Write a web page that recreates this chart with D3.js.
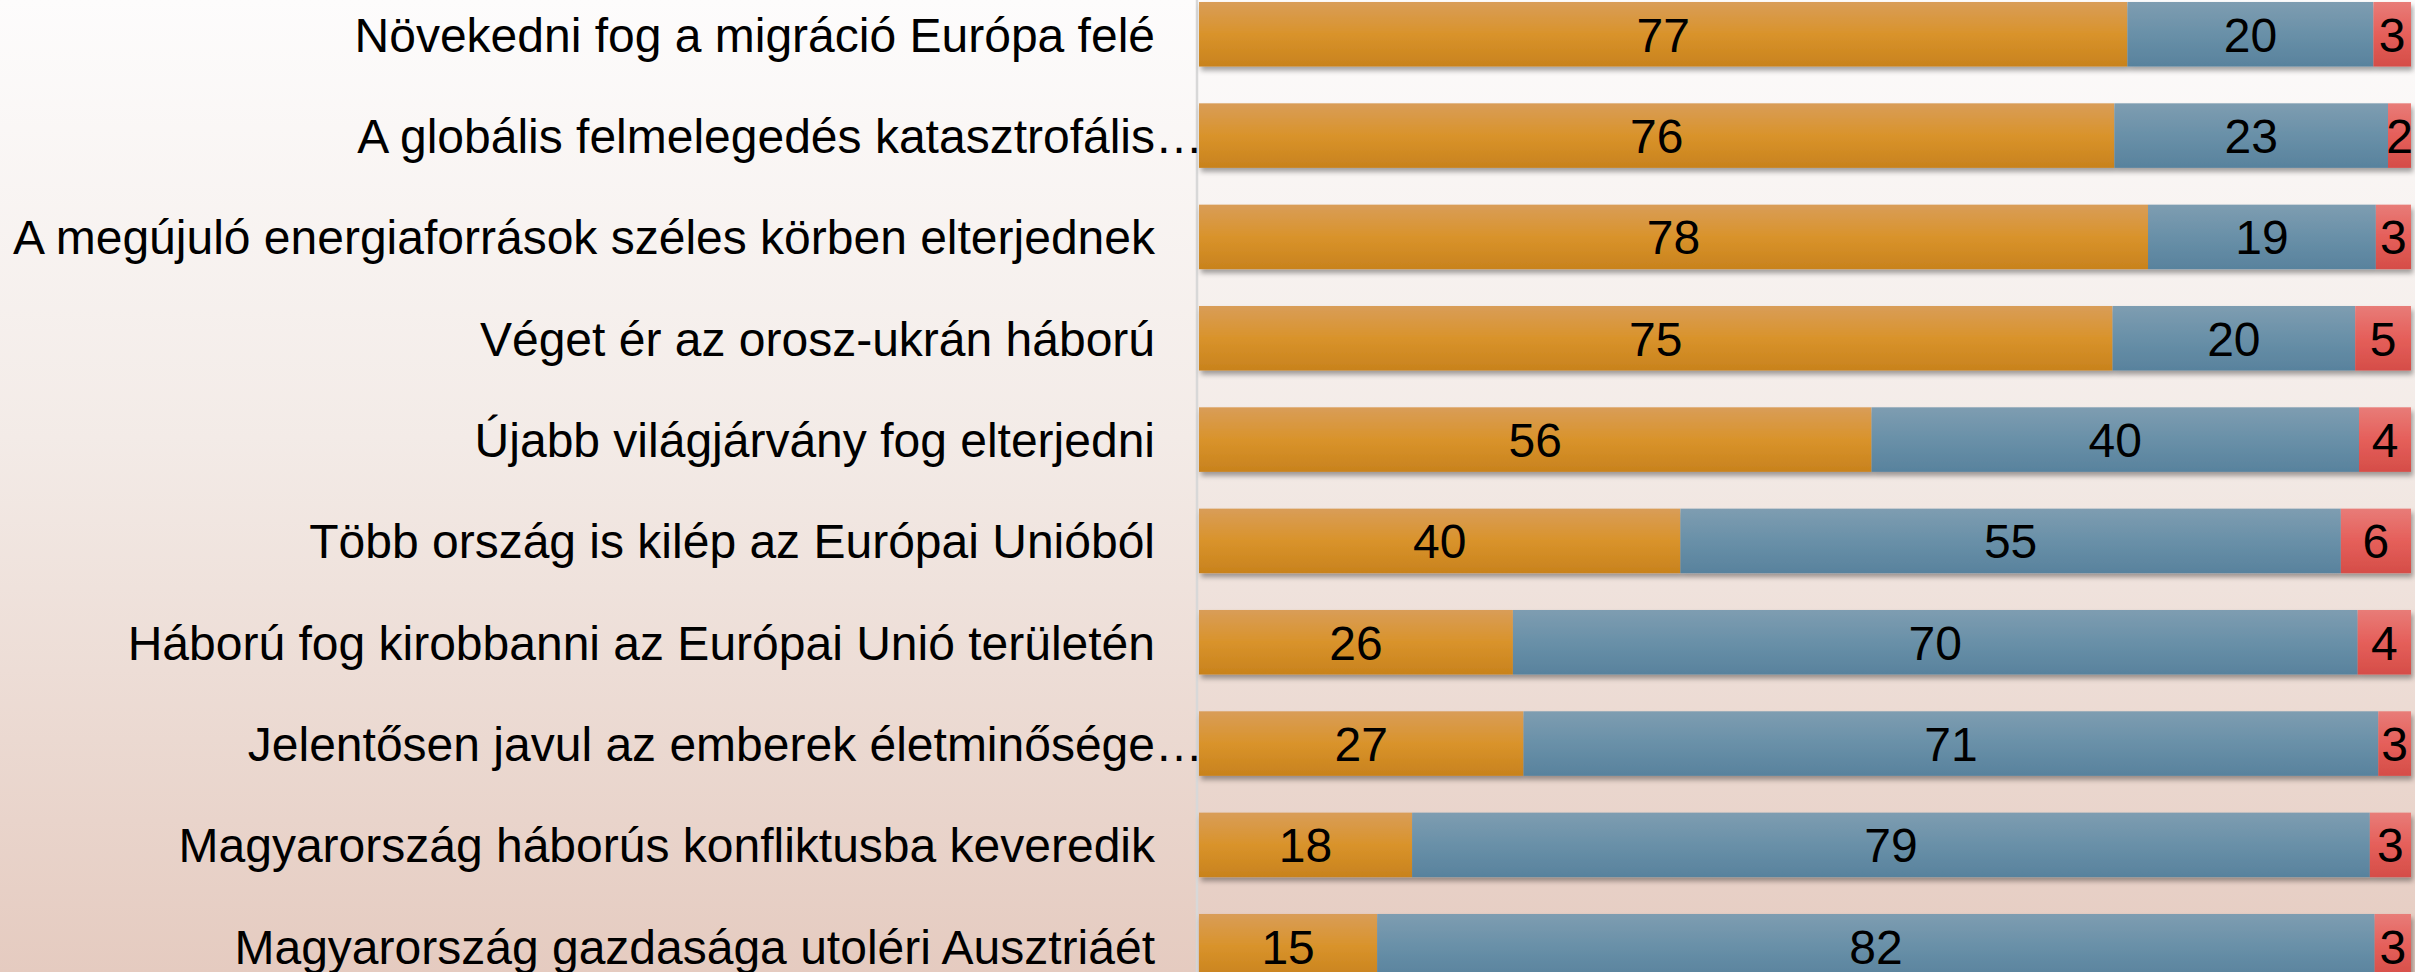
<!DOCTYPE html>
<html>
<head>
<meta charset="utf-8">
<script src="https://cdn.jsdelivr.net/npm/d3@7"></script>
<style>
  html, body { margin: 0; padding: 0; overflow: hidden; }
  svg { display: block; }
</style>
</head>
<body>
<script>
const categories = [
  "Növekedni fog a migráció Európa felé",
  "A globális felmelegedés katasztrofális…",
  "A megújuló energiaforrások széles körben elterjednek",
  "Véget ér az orosz-ukrán háború",
  "Újabb világjárvány fog elterjedni",
  "Több ország is kilép az Európai Unióból",
  "Háború fog kirobbanni az Európai Unió területén",
  "Jelentősen javul az emberek életminősége…",
  "Magyarország háborús konfliktusba keveredik",
  "Magyarország gazdasága utoléri Ausztriáét"
];
const seriesA = [76.6, 75.6, 78.3, 75.3, 55.6, 39.8, 25.9, 26.8, 17.6, 14.7];
const seriesB = [20.3, 22.6, 18.8, 20.0, 40.3, 54.6, 69.7, 70.6, 79.1, 82.3];
const seriesC = [3.1, 1.9, 2.9, 4.6, 4.3, 5.8, 4.4, 2.7, 3.4, 3.0];
const seriesNames = ["A", "B", "C"];

const W = 2415, H = 972;
const svg = d3.select("body").append("svg").attr("width", W).attr("height", H);
const defs = svg.append("defs");

// background gradient
const bg = defs.append("linearGradient").attr("id", "bg").attr("x1", 0).attr("y1", 0).attr("x2", 0).attr("y2", 1);
bg.append("stop").attr("offset", "0%").attr("stop-color", "#fdfcfc");
bg.append("stop").attr("offset", "45%").attr("stop-color", "#f3ebe7");
bg.append("stop").attr("offset", "100%").attr("stop-color", "#e5cbc0");

function grad(id, stops) {
  const g = defs.append("linearGradient").attr("id", id).attr("x1", 0).attr("y1", 0).attr("x2", 0).attr("y2", 1);
  stops.forEach(s => g.append("stop").attr("offset", s[0]).attr("stop-color", s[1]));
}
grad("gA", [["0%", "#d99d58"], ["50%", "#d9932b"], ["100%", "#c8821d"]]);
grad("gB", [["0%", "#7e9db1"], ["50%", "#6990a8"], ["100%", "#58829d"]]);
grad("gC", [["0%", "#e87c78"], ["50%", "#e55f5a"], ["100%", "#d54d48"]]);

const f = defs.append("filter").attr("id", "sh").attr("x", "-5%").attr("y", "-30%").attr("width", "110%").attr("height", "170%");
f.append("feDropShadow").attr("dx", 2).attr("dy", 4).attr("stdDeviation", 2.5)
  .attr("flood-color", "#000").attr("flood-opacity", 0.35);

svg.append("rect").attr("width", W).attr("height", H).attr("fill", "url(#bg)");

const x = d3.scaleLinear().domain([0, 1]).range([1199, 2411]);
const y = d3.scaleBand().domain(categories).range([-16.4, 996.9]).paddingInner(0.363).paddingOuter(0.1815);

const rows = categories.map((c, i) => {
  const vals = [seriesA[i], seriesB[i], seriesC[i]];
  const tot = d3.sum(vals);
  let acc = 0;
  const segs = vals.map((v, k) => {
    const s = { k, v, x0: acc / tot, x1: (acc + v) / tot };
    acc += v;
    return s;
  });
  return { c, segs };
});

const fills = ["url(#gA)", "url(#gB)", "url(#gC)"];

// axis line
svg.append("line").attr("x1", 1197).attr("x2", 1197).attr("y1", 0).attr("y2", H)
  .attr("stroke", "#d8d8d8").attr("stroke-width", 2.5);

const rowG = svg.selectAll("g.row").data(rows).enter().append("g").attr("class", "row")
  .attr("filter", "url(#sh)");
rowG.selectAll("rect").data(d => d.segs.map(s => Object.assign({ c: d.c }, s))).enter().append("rect")
  .attr("x", s => x(s.x0))
  .attr("width", s => x(s.x1) - x(s.x0))
  .attr("y", s => y(s.c))
  .attr("height", y.bandwidth())
  .attr("fill", s => fills[s.k]);

// value labels
const labG = svg.append("g");
rows.forEach(r => {
  r.segs.forEach(s => {
    labG.append("text")
      .attr("x", (x(s.x0) + x(s.x1)) / 2)
      .attr("y", y(r.c) + y.bandwidth() / 2)
      .attr("dy", "0.36em")
      .attr("text-anchor", "middle")
      .attr("font-family", "Liberation Sans, Arial, sans-serif")
      .attr("font-size", 48)
      .attr("fill", "#000")
      .text(Math.round(s.v));
  });
});

// category labels
const yAxisG = svg.append("g");
categories.forEach(c => {
  const t = yAxisG.append("text")
    .attr("x", 1155)
    .attr("y", y(c) + y.bandwidth() / 2)
    .attr("dy", "0.36em")
    .attr("text-anchor", "end")
    .attr("font-family", "Liberation Sans, Arial, sans-serif")
    .attr("font-size", 48)
    .attr("fill", "#000")
    .text(c);
  if (c.endsWith("…")) {
    const n = c.length;
    const w = t.node().getSubStringLength(n - 1, 1);
    t.attr("x", 1155 + w);
  }
});
</script>
</body>
</html>
